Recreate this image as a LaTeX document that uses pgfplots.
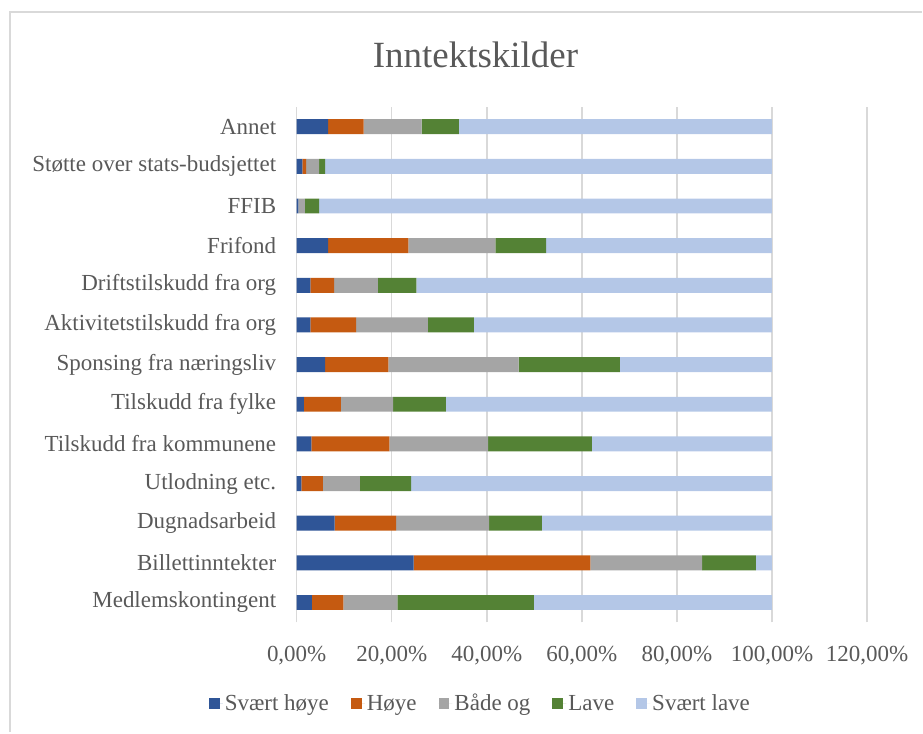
\documentclass[border=0pt]{standalone}
\usepackage{pgfplots}
\pgfplotsset{compat=1.18}
\usepackage{pgfplotstable}
\usepackage{fontspec}
\setmainfont{Liberation Serif}
\definecolor{c1}{HTML}{2F5597}
\definecolor{c2}{HTML}{C55A11}
\definecolor{c3}{HTML}{A5A5A5}
\definecolor{c4}{HTML}{548235}
\definecolor{c5}{HTML}{B4C7E7}
\definecolor{txt}{HTML}{595959}
\definecolor{grd}{HTML}{D9D9D9}

\pgfplotstableread{
idx a b c d e
0 3.2 6.6 11.4 28.7 50.1
1 24.6 37.2 23.5 11.3 3.4
2 8.0 12.9 19.6 11.1 48.4
3 1.0 4.5 7.8 10.8 75.9
4 3.1 16.4 20.8 21.8 37.9
5 1.5 7.8 11.0 11.1 68.6
6 6.0 13.3 27.4 21.3 32.0
7 2.9 9.6 15.1 9.7 62.7
8 2.9 5.0 9.2 8.1 74.8
9 6.6 16.9 18.3 10.7 47.5
10 0.35 0 1.35 3.0 95.3
11 1.2 0.8 2.7 1.3 94.0
12 6.6 7.5 12.2 7.8 65.9
}\data

\begin{document}
\begin{tikzpicture}
\begin{axis}[
  name=ax,
  scale only axis,
  width=571pt, height=516pt,
  xbar stacked,
  bar width=15pt,
  xmin=0, xmax=120,
  ymin=-0.5, ymax=12.5,
  xtick={0,20,40,60,80,100,120},
  xticklabels={{0,00\%},{20,00\%},{40,00\%},{60,00\%},{80,00\%},{100,00\%},{120,00\%}},
  ytick={0,1,2,3,4,5,6,7,8,9,10,11,12},
  yticklabels={Medlemskontingent,Billettinntekter,Dugnadsarbeid,Utlodning etc.,Tilskudd fra kommunene,Tilskudd fra fylke,Sponsing fra næringsliv,Aktivitetstilskudd fra org,Driftstilskudd fra org,Frifond,FFIB,Støtte over stats-budsjettet,Annet},
  xmajorgrids,
  ymajorgrids=false,
  major grid style={grd, line width=1.5pt},
  axis line style={draw=none},
  major tick length=0pt,
  tick label style={font=\fontsize{23}{27}\selectfont, text=txt},
  xticklabel style={anchor=base, yshift=-39pt},
  yticklabel style={anchor=east, xshift=-17pt},
  legend columns=-1,
  legend style={at={(axis description cs:0.322,-0.157)}, anchor=center, draw=none,
    font=\fontsize{23}{27}\selectfont, text=txt,
    /tikz/every even column/.append style={column sep=20pt}},
  legend image code/.code={\fill[#1] (0pt,-5.5pt) rectangle (11pt,5.5pt); \path (0pt,0pt) -- (14pt,0pt);},
  clip=false,
]
\addplot[fill=c1, draw=none] table[x=a, y=idx] {\data};
\addplot[fill=c2, draw=none] table[x=b, y=idx] {\data};
\addplot[fill=c3, draw=none] table[x=c, y=idx] {\data};
\addplot[fill=c4, draw=none] table[x=d, y=idx] {\data};
\addplot[fill=c5, draw=none] table[x=e, y=idx] {\data};
\legend{Svært høye,Høye,Både og,Lave,Svært lave}
\end{axis}
\path ([xshift=-297pt,yshift=107pt]ax.north west) rectangle ([xshift=55pt,yshift=-110pt]ax.south east);
\draw[grd, line width=2pt] ([xshift=-287pt,yshift=-110pt]ax.south west) -- ([xshift=-287pt,yshift=95pt]ax.north west) -- ([xshift=55pt,yshift=95pt]ax.north east);
\node[font=\fontsize{37}{42}\selectfont, text=txt] at ([xshift=179pt,yshift=52pt]ax.north west) {Inntektskilder};
\end{tikzpicture}
\end{document}
